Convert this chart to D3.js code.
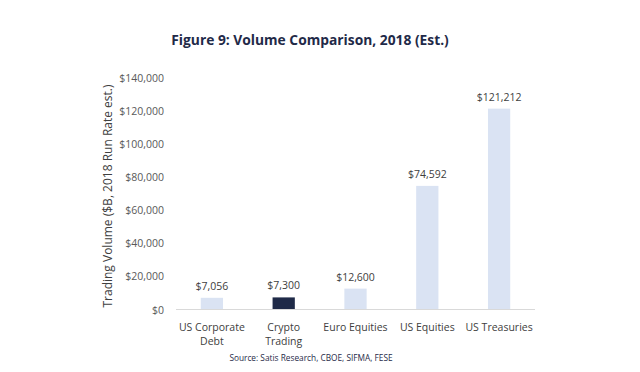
<html lang="en">
<head>
<meta charset="UTF-8">
<title>Volume Comparison</title>
<script src="https://d3js.org/d3.v7.min.js"></script>
<style>
    body, html { margin: 0; padding: 0; background: #fff; }
    svg text { font-family: "Open Sans", "Liberation Sans", sans-serif; }
</style>
</head>
<body>
<div id="chart"></div>
<script>
    const categories = [["US Corporate", "Debt"], ["Crypto", "Trading"], ["Euro Equities"], ["US Equities"], ["US Treasuries"]];
    const values = [7056, 7300, 12600, 74592, 121212];
    const highlight = [false, true, false, false, false];
    const yTicks = [0, 20000, 40000, 60000, 80000, 100000, 120000, 140000];

    const width = 640, height = 372;
    const svg = d3.select("#chart").append("svg")
        .attr("width", width)
        .attr("height", height);

    const x = d3.scaleBand()
        .domain(d3.range(categories.length))
        .range([176, 535])
        .paddingInner(0.69)
        .paddingOuter(0.345);

    const y = d3.scaleLinear()
        .domain([0, 140000])
        .range([309.5, 77.5]);

    const fmt = d3.format(",");

    // title
    svg.append("text")
        .attr("x", 310).attr("y", 45)
        .attr("text-anchor", "middle")
        .attr("font-size", 13.8)
        .attr("font-weight", "bold")
        .attr("fill", "#1f2a48")
        .text("Figure 9: Volume Comparison, 2018 (Est.)");

    // y ticks
    svg.selectAll(".ytick")
        .data(yTicks)
        .enter().append("text")
        .attr("x", 164)
        .attr("y", d => y(d) + 4)
        .attr("text-anchor", "end")
        .attr("font-size", 10.5)
        .attr("fill", "#595959")
        .text(d => "$" + fmt(d));

    // y label
    svg.append("text")
        .attr("transform", "translate(112,196) rotate(-90)")
        .attr("text-anchor", "middle")
        .attr("font-size", 12)
        .attr("fill", "#404040")
        .text("Trading Volume ($B, 2018 Run Rate est.)");

    // bars
    svg.selectAll(".bar")
        .data(values)
        .enter().append("rect")
        .attr("x", (d, i) => x(i))
        .attr("y", d => y(d))
        .attr("width", x.bandwidth())
        .attr("height", d => y(0) - y(d))
        .attr("fill", (d, i) => highlight[i] ? "#1f2a48" : "#dae3f3");

    // value labels
    svg.selectAll(".val")
        .data(values)
        .enter().append("text")
        .attr("x", (d, i) => x(i) + x.bandwidth() / 2)
        .attr("y", d => y(d) - 8)
        .attr("text-anchor", "middle")
        .attr("font-size", 10.5)
        .attr("fill", "#404040")
        .text(d => "$" + fmt(d));

    // baseline
    svg.append("line")
        .attr("x1", 176).attr("x2", 535)
        .attr("y1", y(0)).attr("y2", y(0))
        .attr("stroke", "#d9d9d9")
        .attr("stroke-width", 1);

    // category labels
    const cat = svg.selectAll(".cat")
        .data(categories)
        .enter().append("text")
        .attr("x", (d, i) => x(i) + x.bandwidth() / 2)
        .attr("y", 331)
        .attr("text-anchor", "middle")
        .attr("font-size", 10.5)
        .attr("fill", "#404040");
    cat.selectAll("tspan")
        .data(d => d)
        .enter().append("tspan")
        .attr("x", function() { return this.parentNode.getAttribute("x"); })
        .attr("dy", (d, i) => i === 0 ? 0 : 14)
        .text(d => d);

    // source
    svg.append("text")
        .attr("x", 311).attr("y", 361)
        .attr("text-anchor", "middle")
        .attr("font-size", 8.3)
        .attr("fill", "#1f2a48")
        .text("Source: Satis Research, CBOE, SIFMA, FESE");
</script>
</body>
</html>
